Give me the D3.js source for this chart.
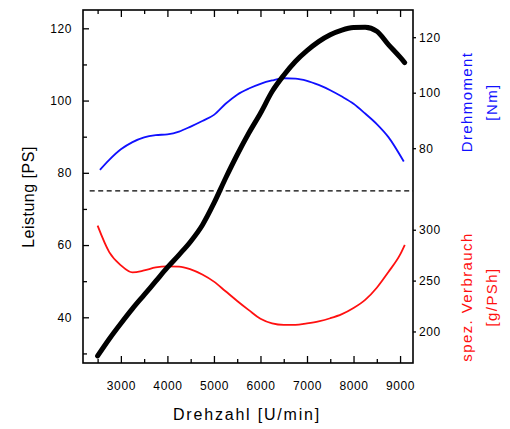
<!DOCTYPE html>
<html>
<head>
<meta charset="utf-8">
<script src="https://cdn.jsdelivr.net/npm/d3@7"></script>
<style>
  body { margin: 0; background: #fff; }
  text { font-family: "Liberation Sans", Arial, sans-serif; }
  .tick text { font-size: 12px; letter-spacing: 0.6px; fill: #000; }
  .tick line { stroke: #000; stroke-width: 1.3; }
</style>
</head>
<body>
<div id="graf"></div>
<script>
// Daten
const drehzahl = [2500, 2750, 3000, 3250, 3500, 3750, 4000, 4250, 4500, 4750, 5000, 5250, 5500, 5750,
  6000, 6250, 6500, 6750, 7000, 7250, 7500, 7750, 8000, 8250, 8500, 8750, 9000, 9100]
const leistung = [29.3, 34, 38.3, 42.4, 46.2, 50, 53.8, 57.3, 61, 65.5, 71.6, 78.5, 85, 91,
  96.5, 102.5, 107, 110.8, 113.8, 116.3, 118.2, 119.5, 120.2, 120.3, 119.2, 115.5, 112, 110.5]
const verbrauch = [304, 278, 265, 258, 260, 263, 264, 263.8, 261, 256, 249, 239.5, 230, 221,
  212.5, 208, 206.5, 206.5, 208, 210, 213, 217, 223, 231, 243, 258.5, 275.5, 285]

const drehzahlM = [2550, 2750, 3000, 3250, 3500, 3750, 4000, 4250, 4500, 4750, 5000, 5250, 5500, 5750,
  6000, 6250, 6500, 6750, 7000, 7250, 7500, 7750, 8000, 8250, 8500, 8750, 9080]
const drehmoment = [72.2, 75.8, 79.6, 82.2, 83.9, 84.7, 85.0, 86.0, 87.8, 89.8, 92.0, 96.0, 99.3, 101.5,
  103.2, 104.4, 105.2, 105.1, 104.3, 102.8, 100.9, 98.6, 96.0, 92.5, 88.7, 84.0, 75.2]

const trennlinie = [2330, 9278]   // gestrichelte Linie bei 75 PS
const trennWert = 75

const xTicks = [3000, 4000, 5000, 6000, 7000, 8000, 9000]
const xMinor = [2500, 3500, 4500, 5500, 6500, 7500, 8500]
const psTicks = [40, 60, 80, 100, 120]
const psMinor = [30, 50, 70, 90, 110]
const nmTicks = [80, 100, 120]
const vbTicks = [200, 250, 300]

// Dimensionen
const anchoTotal = 510
const altoTotal = 429
const frame = { left: 83, right: 413, top: 10, bottom: 363 }

const svg = d3.select("#graf")
  .append("svg")
  .attr("width", anchoTotal)
  .attr("height", altoTotal)

// Skalen
const x = d3.scaleLinear().domain([2186, 9278]).range([frame.left, frame.right])
const yPS = d3.scaleLinear().domain([27.35, 125.07]).range([frame.bottom, frame.top])
const yNm = d3.scaleLinear().domain([2.6, 129.8]).range([frame.bottom, frame.top])
const yVb = d3.scaleLinear().domain([169, 516]).range([frame.bottom, frame.top])

// Achsen
const noDomain = (g) => g.select(".domain").remove()

svg.append("g")
  .attr("transform", `translate(0, ${frame.bottom})`)
  .call(d3.axisBottom(x).tickValues(xTicks).tickSize(-7).tickPadding(18).tickFormat(d3.format("d")))
  .call(noDomain)
svg.append("g")
  .attr("transform", `translate(0, ${frame.bottom})`)
  .call(d3.axisBottom(x).tickValues(xMinor).tickSize(-4).tickFormat(""))
  .call(noDomain)
svg.append("g")
  .attr("transform", `translate(0, ${frame.top})`)
  .call(d3.axisTop(x).tickValues(xTicks).tickSize(-7).tickFormat(""))
  .call(noDomain)
svg.append("g")
  .attr("transform", `translate(0, ${frame.top})`)
  .call(d3.axisTop(x).tickValues(xMinor).tickSize(-4).tickFormat(""))
  .call(noDomain)

svg.append("g")
  .attr("transform", `translate(${frame.left}, 0)`)
  .call(d3.axisLeft(yPS).tickValues(psTicks).tickSize(-6).tickPadding(11))
  .call(noDomain)
svg.append("g")
  .attr("transform", `translate(${frame.left}, 0)`)
  .call(d3.axisLeft(yPS).tickValues(psMinor).tickSize(-4).tickFormat(""))
  .call(noDomain)

svg.append("g")
  .attr("transform", `translate(${frame.right}, 0)`)
  .call(d3.axisRight(yNm).tickValues(nmTicks).tickSize(3).tickPadding(3))
  .call(noDomain)
svg.append("g")
  .attr("transform", `translate(${frame.right}, 0)`)
  .call(d3.axisRight(yVb).tickValues(vbTicks).tickSize(3).tickPadding(3))
  .call(noDomain)

// Rahmen
svg.append("rect")
  .attr("x", frame.left)
  .attr("y", frame.top)
  .attr("width", frame.right - frame.left)
  .attr("height", frame.bottom - frame.top)
  .attr("fill", "none")
  .attr("stroke", "#000")
  .attr("stroke-width", 1.6)

// Trennlinie
svg.append("line")
  .attr("x1", x(trennlinie[0]))
  .attr("x2", x(trennlinie[1]))
  .attr("y1", yPS(trennWert))
  .attr("y2", yPS(trennWert))
  .attr("stroke", "#000")
  .attr("stroke-width", 1.3)
  .attr("stroke-dasharray", "5,3.5")

// Kurven
const linie = (xs, ys, yScale) => d3.line()
  .x((d, i) => x(xs[i]))
  .y((d) => yScale(d))
  .curve(d3.curveMonotoneX)(ys)

svg.append("path")
  .attr("d", linie(drehzahlM, drehmoment, yNm))
  .attr("fill", "none")
  .attr("stroke", "#1010ff")
  .attr("stroke-width", 1.8)

svg.append("path")
  .attr("d", linie(drehzahl, verbrauch, yVb))
  .attr("fill", "none")
  .attr("stroke", "#ff1010")
  .attr("stroke-width", 1.8)

svg.append("path")
  .attr("d", linie(drehzahl, leistung, yPS))
  .attr("fill", "none")
  .attr("stroke", "#000")
  .attr("stroke-width", 5)
  .attr("stroke-linecap", "round")

// Beschriftungen
svg.append("text")
  .attr("x", 247)
  .attr("y", 420)
  .attr("text-anchor", "middle")
  .style("font-size", "16px")
  .style("letter-spacing", "1.8px")
  .text("Drehzahl [U/min]")

svg.append("text")
  .attr("transform", "translate(34, 197) rotate(-90)")
  .attr("text-anchor", "middle")
  .style("font-size", "16px")
  .style("letter-spacing", "0.5px")
  .text("Leistung [PS]")

const rechts = (lines, cy, color) => {
  lines.forEach((t, i) => {
    svg.append("text")
      .attr("transform", `translate(${472 + i * 25}, ${cy}) rotate(-90)`)
      .attr("text-anchor", "middle")
      .attr("fill", color)
      .style("font-size", "15px")
      .style("letter-spacing", "1.4px")
      .text(t)
  })
}
rechts(["Drehmoment", "[Nm]"], 102, "#1010ff")
rechts(["spez. Verbrauch", "[g/PSh]"], 297, "#ff1010")
</script>
</body>
</html>
